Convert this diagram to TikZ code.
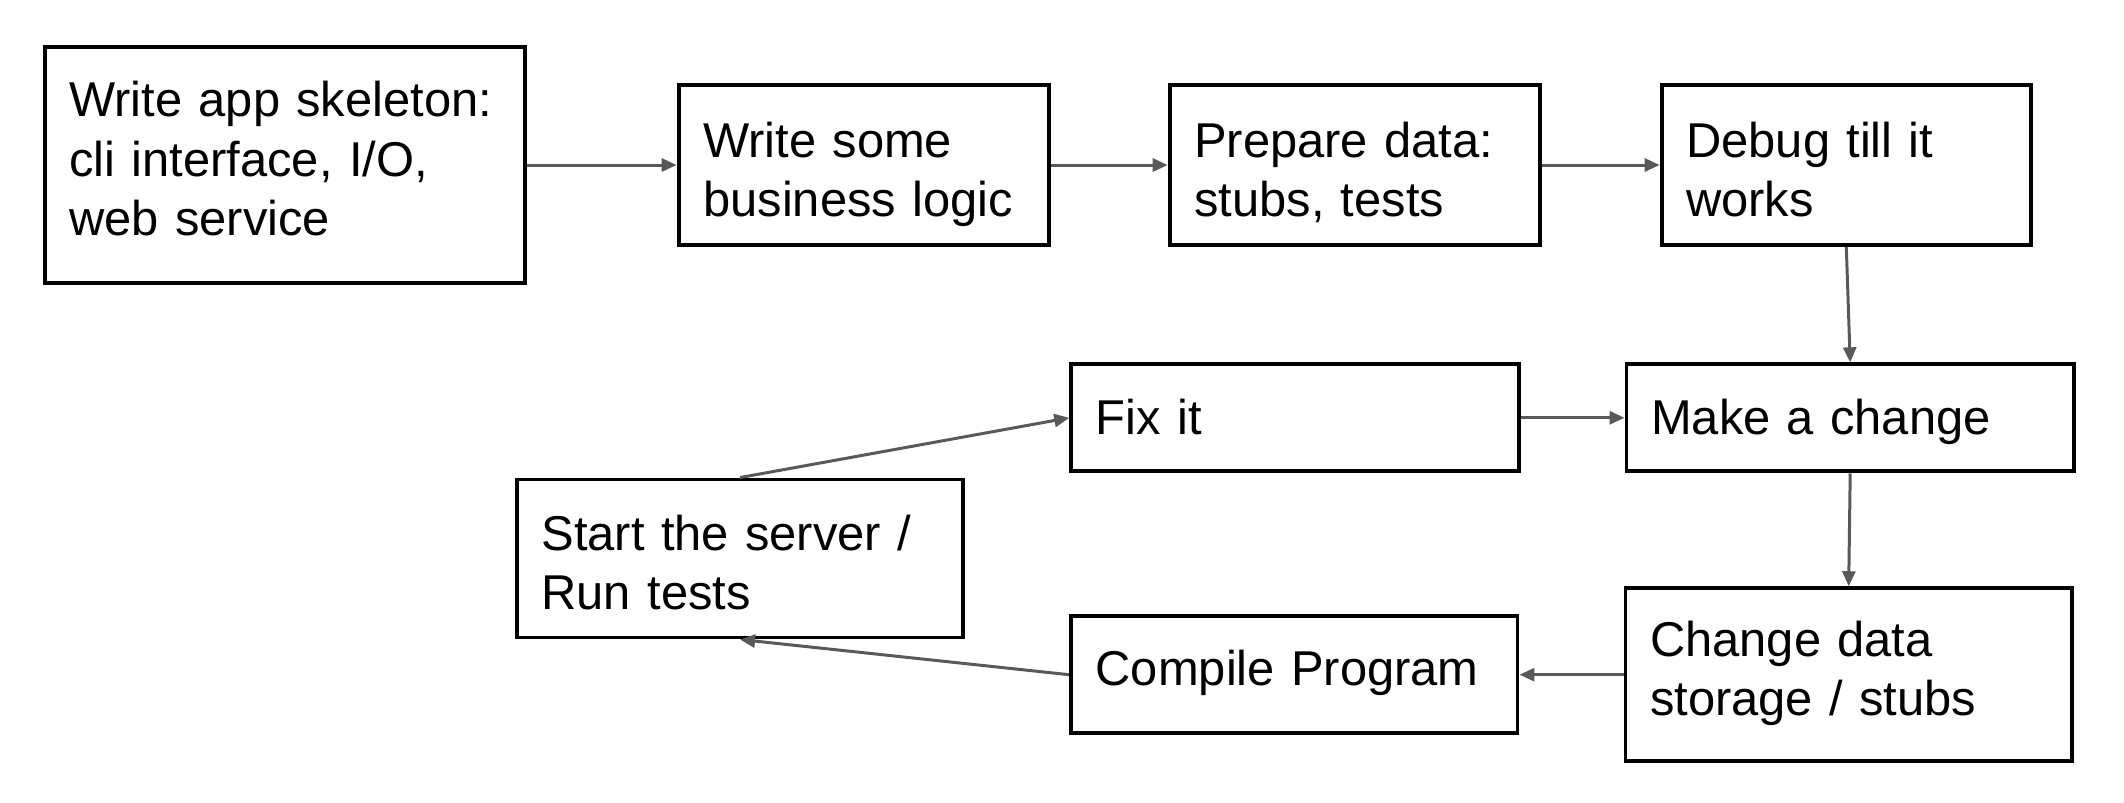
\documentclass[tikz,border=0pt]{standalone}
\usepackage{xcolor}
\usepackage{fontspec}
\setmainfont{Liberation Sans}
\usepackage{tikz}
\usetikzlibrary{positioning,arrows.meta}

\definecolor{linegray}{HTML}{595959}

\begin{document}
\begin{tikzpicture}[x=0.01cm, y=-0.01cm,
    task/.style={draw=black, line width=1.1pt, fill=white, align=left,
      inner xsep=0.246cm, inner ysep=0pt,
      font=\fontsize{13.9}{16.8}\selectfont},
    flow/.style={linegray, line width=0.85pt,
      -{Triangle[length=0.15cm, width=0.13cm]}}]

      \useasboundingbox (0, 0) rectangle (2124, 802);

      \coordinate (A1) at (284.9, 165);
      \coordinate (A2) at (863.8, 165);
      \coordinate (A3) at (1354.8, 165);
      \coordinate (A4) at (1846.3, 165);

      \coordinate (B1) at (1294.9, 417.8);
      \coordinate (B2) at (1850.2, 417.8);

      \coordinate (C1) at (740.1, 558.5);
      \coordinate (C2) at (1294.3, 674.7);
      \coordinate (C3) at (1848.7, 674.7);

      \node [task, text width=4.31cm, minimum height=2.36cm, text height=0.22cm, text depth=1.18cm] (skeleton) at (A1) {Write app skeleton:\\cli interface, I/O,\\web service};
      \node [task, text width=3.21cm, minimum height=1.60cm, text height=0.43cm, text depth=0.59cm] (logic) at (A2) {Write some\\business logic};
      \node [task, text width=3.21cm, minimum height=1.60cm, text height=0.43cm, text depth=0.59cm] (data) at (A3) {Prepare data:\\stubs, tests};
      \node [task, text width=3.20cm, minimum height=1.60cm, text height=0.43cm, text depth=0.59cm] (debug) at (A4) {Debug till it\\works};

      \node [task, text width=3.98cm, minimum height=1.07cm, text height=0.34cm, text depth=0cm] (fixit) at (B1) {Fix it};
      \node [task, text width=3.98cm, minimum height=1.07cm, text height=0.34cm, text depth=0cm] (change) at (B2) {Make a change};

      \node [task, text width=3.97cm, minimum height=1.58cm, text height=0.43cm, text depth=0.59cm] (server) at (C1) {Start the server /\\Run tests};
      \node [task, text width=3.97cm, minimum height=1.17cm, text height=0.34cm, text depth=0.12cm] (compile) at (C2) {Compile Program};
      \node [task, text width=3.97cm, minimum height=1.73cm, text height=0.23cm, text depth=0.59cm] (storage) at (C3) {Change data\\storage / stubs};

      % top row
      \draw [flow] (skeleton.east) -- (logic.west);
      \draw [flow] (logic.east) -- (data.west);
      \draw [flow] (data.east) -- (debug.west);
      \draw [flow] (debug.south) -- (change.north);

      % the loop
      \draw [flow] (change.south) -- (storage.north);
      \draw [flow] (storage.west) -- (compile.east);
      \draw [flow] (compile.west) -- (server.south);
      \draw [flow] (server.north) -- (fixit.west);
      \draw [flow] (fixit.east) -- (change.west);
    \end{tikzpicture}
\end{document}
